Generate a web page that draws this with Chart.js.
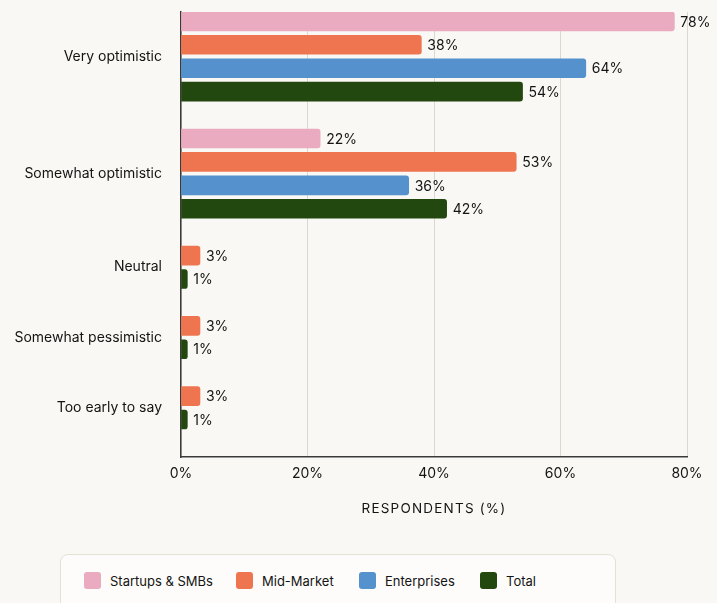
<!DOCTYPE html>
<html>
<head>
<meta charset="utf-8">
<script src="https://cdn.jsdelivr.net/npm/chart.js@4.4.1/dist/chart.umd.min.js"></script>
<style>
  html, body { margin: 0; padding: 0; background: #f9f8f4; }
  body { width: 717px; height: 603px; position: relative; overflow: hidden; font-family: Inter, "Noto Sans", sans-serif; }
  #wrap { position: absolute; left: 0; top: 0; width: 717px; height: 540px; }
  #legend {
    position: absolute; left: 60px; top: 554px; width: 556px; height: 70px;
    background: #fdfcfa; border: 1px solid #e7e1d4; border-radius: 8px;
    box-sizing: border-box;
  }
  .item { position: absolute; top: 17px; display: flex; align-items: center; font-size: 13px; color: #141414; }
  .sw { width: 17px; height: 17px; border-radius: 3px; margin-right: 9px; }
</style>
</head>
<body>
<div id="wrap"><canvas id="myChart"></canvas></div>
<div id="legend"></div>
<script>
var categories = ['Very optimistic', 'Somewhat optimistic', 'Neutral', 'Somewhat pessimistic', 'Too early to say'];
var seriesNames = ['Startups & SMBs', 'Mid-Market', 'Enterprises', 'Total'];
var seriesColors = ['#eaaac0', '#ee7550', '#5491cd', '#23480f'];
var startups = [78, 22, null, null, null];
var midMarket = [38, 53, 3, 3, 3];
var enterprises = [64, 36, null, null, null];
var total = [54, 42, 1, 1, 1];
var xTicks = [0, 20, 40, 60, 80];
var xTitle = 'RESPONDENTS (%)';

var allSeries = [startups, midMarket, enterprises, total];

// one row per bar that exists, one empty row between categories
var rowData = allSeries.map(function () { return []; });
var groupCenters = [];
var row = 0;
categories.forEach(function (cat, ci) {
    var first = row;
    allSeries.forEach(function (s, si) {
        if (s[ci] !== null) {
            rowData[si].push({ x: s[ci], y: row });
            row++;
        }
    });
    groupCenters.push((first + row - 1) / 2);
    row++;
});

var valueLabels = {
    id: 'valueLabels',
    afterDatasetsDraw: function (chart) {
        var ctx = chart.ctx;
        ctx.save();
        ctx.font = '14px Inter';
        ctx.fillStyle = '#141414';
        ctx.textBaseline = 'middle';
        chart.data.datasets.forEach(function (ds, i) {
            chart.getDatasetMeta(i).data.forEach(function (bar, j) {
                ctx.fillText(ds.data[j].x + '%', bar.x + 6, bar.y + 1);
            });
        });
        // axis title, spaced out
        var area = chart.chartArea;
        ctx.font = '13.5px Inter';
        ctx.letterSpacing = '1.2px';
        ctx.textAlign = 'center';
        ctx.fillText(xTitle, (area.left + area.right) / 2, area.bottom + 52);
        ctx.restore();
    }
};

var ctx = document.getElementById('myChart').getContext('2d');
var myChart = new Chart(ctx, {
    type: 'bar',
    data: {
        datasets: seriesNames.map(function (name, i) {
            return {
                label: name,
                data: rowData[i],
                backgroundColor: seriesColors[i],
                borderRadius: 3,
                borderSkipped: 'start',
                barThickness: 19,
                grouped: false
            };
        })
    },
    options: {
        indexAxis: 'y',
        responsive: true,
        maintainAspectRatio: false,
        animation: false,
        layout: { padding: { top: 12, right: 30, bottom: 0 } },
        plugins: { legend: { display: false }, tooltip: { enabled: false } },
        scales: {
            x: {
                type: 'linear',
                min: 0,
                max: 80,
                afterBuildTicks: function (scale) {
                    scale.ticks = xTicks.map(function (v) { return { value: v }; });
                },
                afterFit: function (scale) { scale.height = 83; },
                grid: { color: '#dcd8cf', lineWidth: 1, drawTicks: false },
                border: { display: true, color: '#3a3a3a', width: 1.5 },
                ticks: {
                    padding: 8,
                    color: '#141414',
                    font: { family: 'Inter', size: 14 },
                    callback: function (v) { return v + '%'; }
                }
            },
            y: {
                type: 'linear',
                reverse: true,
                offset: false,
                min: -0.4,
                max: row - 1 + 0.6,
                afterBuildTicks: function (scale) {
                    scale.ticks = groupCenters.map(function (v) { return { value: v }; });
                },
                afterFit: function (scale) {
                    scale.width = 181;
                    scale.paddingTop = 0;
                    scale.paddingBottom = 0;
                },
                grid: { display: false, drawTicks: false },
                border: { display: true, color: '#3a3a3a', width: 1.5 },
                ticks: {
                    padding: 19,
                    color: '#141414',
                    font: { family: 'Inter', size: 14 },
                    callback: function (v) { return categories[groupCenters.indexOf(v)]; }
                }
            }
        }
    },
    plugins: [valueLabels]
});

var legend = document.getElementById('legend');
var legendX = [23, 175, 298, 419];
seriesNames.forEach(function (name, i) {
    var div = document.createElement('div');
    div.className = 'item';
    div.style.left = legendX[i] + 'px';
    div.innerHTML = '<span class="sw" style="background:' + seriesColors[i] + '"></span>' + name;
    legend.appendChild(div);
});
</script>
</body>
</html>
